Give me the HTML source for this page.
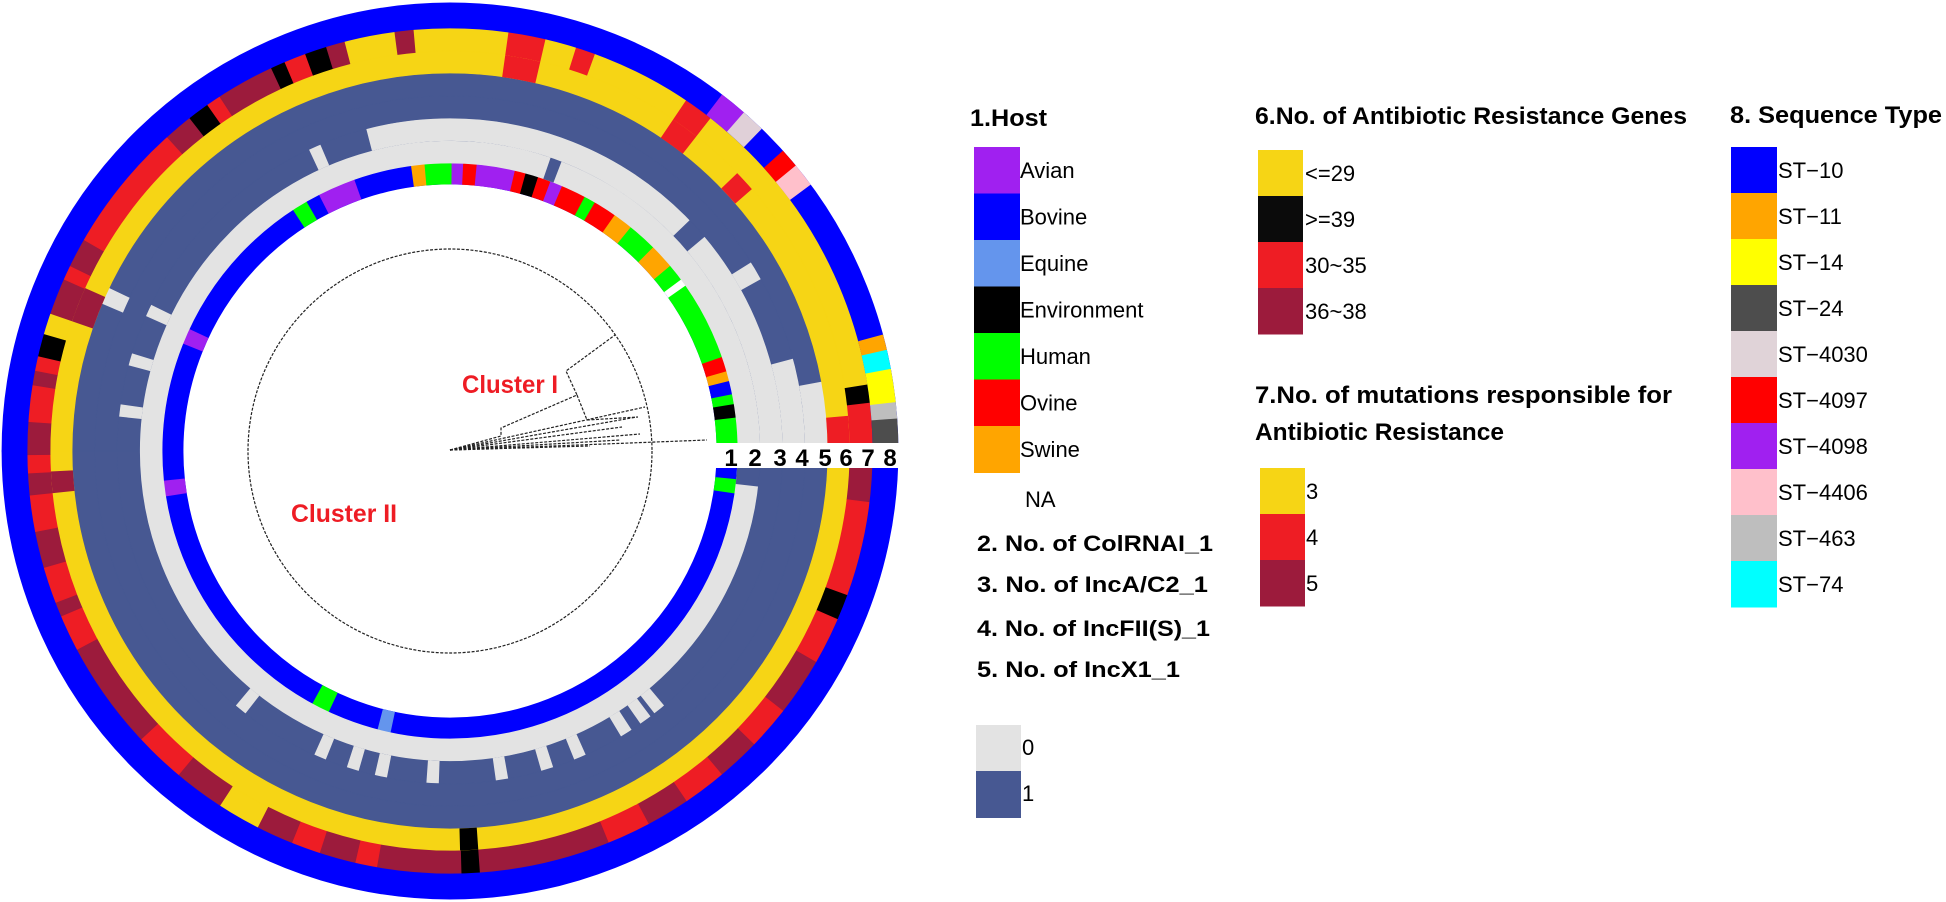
<!DOCTYPE html>
<html><head><meta charset="utf-8"><style>
html,body{margin:0;padding:0;background:#fff;}
svg{display:block;}
text{font-family:"Liberation Sans",sans-serif;}
.b{font-weight:bold;}
</style></head><body>
<svg id="s" width="1946" height="902" viewBox="0 0 1946 902" xmlns="http://www.w3.org/2000/svg">
<g id="rings"></g>
<rect x="700" y="443" width="215" height="25" fill="#fff"/>
<g id="tree" fill="none" stroke="#222" stroke-width="1.2" stroke-dasharray="3,1.5">
<circle cx="450" cy="451" r="202"/>
<polyline points="450,450 501,436 501,428 577,395 566,371 615,335"/>
<polyline points="577,395 587,420 638,417"/>
<line x1="450" y1="450" x2="645" y2="407"/>
<line x1="450" y1="450" x2="637" y2="417"/>
<line x1="450" y1="450" x2="622" y2="427"/>
<line x1="450" y1="450" x2="640" y2="434"/>
<line x1="450" y1="450" x2="620" y2="440"/>
<line x1="450" y1="450" x2="707" y2="440"/>
<line x1="450" y1="450" x2="590" y2="446"/>
</g>
<g class="b" font-size="24" fill="#000">
<text x="731" y="466" text-anchor="middle">1</text><text x="755" y="466" text-anchor="middle">2</text>
<text x="780" y="466" text-anchor="middle">3</text><text x="802" y="466" text-anchor="middle">4</text>
<text x="825" y="466" text-anchor="middle">5</text><text x="846" y="466" text-anchor="middle">6</text>
<text x="868" y="466" text-anchor="middle">7</text><text x="890" y="466" text-anchor="middle">8</text>
</g>
<text class="b" x="462" y="393" font-size="25" fill="#ee1c24" textLength="96" lengthAdjust="spacingAndGlyphs">Cluster I</text>
<text class="b" x="291" y="522" font-size="25" fill="#ee1c24" textLength="106" lengthAdjust="spacingAndGlyphs">Cluster II</text>

<text class="b" x="970" y="126" font-size="24" textLength="77" lengthAdjust="spacingAndGlyphs">1.Host</text>
<g id="leg1"></g>
<text x="1025" y="507" font-size="22">NA</text>
<g class="b" font-size="22">
<text x="977" y="551" textLength="236" lengthAdjust="spacingAndGlyphs">2. No. of ColRNAI_1</text>
<text x="977" y="592" textLength="231" lengthAdjust="spacingAndGlyphs">3. No. of IncA/C2_1</text>
<text x="977" y="636" textLength="233" lengthAdjust="spacingAndGlyphs">4. No. of IncFII(S)_1</text>
<text x="977" y="677" textLength="203" lengthAdjust="spacingAndGlyphs">5. No. of IncX1_1</text>
</g>
<rect x="976" y="725" width="45" height="46" fill="#e3e3e3"/>
<rect x="976" y="771" width="45" height="47" fill="#475892"/>
<text x="1022" y="755" font-size="22">0</text>
<text x="1022" y="801" font-size="22">1</text>

<text class="b" x="1255" y="124" font-size="24" textLength="432" lengthAdjust="spacingAndGlyphs">6.No. of Antibiotic Resistance Genes</text>
<text class="b" x="1255" y="403" font-size="24" textLength="417" lengthAdjust="spacingAndGlyphs">7.No. of  mutations responsible for</text>
<text class="b" x="1255" y="440" font-size="24" textLength="249" lengthAdjust="spacingAndGlyphs">Antibiotic Resistance</text>
<g id="leg2"></g>
<text class="b" x="1730" y="123" font-size="24" textLength="212" lengthAdjust="spacingAndGlyphs">8. Sequence Type</text>
<g id="leg3"></g>
</svg>
<script>
var NS="http://www.w3.org/2000/svg";
var cx=450,cy=451;
var g=document.getElementById('rings');
function P(r,a){a=a*Math.PI/180;return (cx+r*Math.cos(a)).toFixed(2)+","+(cy+r*Math.sin(a)).toFixed(2);}
function arc(r1,r2,a1,a2,col){
  var la=(a2-a1)>180?1:0;
  var d="M"+P(r2,a1)+" A"+r2+","+r2+" 0 "+la+" 1 "+P(r2,a2)+" L"+P(r1,a2)+" A"+r1+","+r1+" 0 "+la+" 0 "+P(r1,a1)+"Z";
  var p=document.createElementNS(NS,"path");p.setAttribute("d",d);p.setAttribute("fill",col);
  p.setAttribute("stroke",col);p.setAttribute("stroke-width","0.8");g.appendChild(p);
}
function full(r1,r2,col){arc(r1,r2,0,179.99,col);arc(r1,r2,180,359.99,col);}
var BL="#0000ff",GR="#00ff00",PU="#a020f0",RD="#ff0000",OR="#ffa500",BK="#000000",EQ="#6495ed";
var Y6="#f6d515",R7="#ee1d24",DR="#9c1b3c",GY="#e3e3e3",SL="#475892";
var R=[267,288,310.5,333,355.5,378,400,423,448];
full(R[0],R[1],BL);
[[5.7,8.4,GR],[102,104.5,EQ],[115,118.5,GR],[171,174,PU],[202,205,PU],[237,240,GR],[243,250.5,PU],
[262.3,265,OR],[265,270.4,GR],[270.4,272.7,PU],[272.7,275.4,RD],[275.4,283.1,PU],[283.1,285.3,RD],[285.3,287.9,BK],
[287.9,290.5,RD],[290.5,293,PU],[293,298,RD],[298,300.3,GR],[300.3,305,RD],[305,309,OR],[309,315,GR],[315,320,OR],
[320,323.5,GR],[323.5,325,"#fff"],[325,341,GR],[341,344,RD],[344,346,OR],[346,348.7,BL],[348.7,350.7,GR],[350.7,353.4,BK],[353.4,359.99,GR]
].forEach(function(s){arc(R[0],R[1],s[0],s[1],s[2]);});
full(R[1],R[2],GY);
[[0,6.5],[289,291]].forEach(function(s){arc(R[1],R[2],s[0],s[1],SL);});
full(R[2],R[3],SL);
[[50,52],[53,55],[57,59],[66,68],[72,74],[80,82],[92,94],[101,103],[106,108],[112,114],[128,130],[186,188],[195,197],[204,206],[245,247],[255.5,316],[320,359.99]
].forEach(function(s){arc(R[2],R[3],s[0],s[1],GY);});
full(R[3],R[4],SL);
[[328,331],[345,359.99]].forEach(function(s){arc(R[3],R[4],s[0],s[1],GY);});
full(R[4],R[5],SL);
[[203,205.5],[349.5,359.99]].forEach(function(s){arc(R[4],R[5],s[0],s[1],GY);});
full(R[5],R[6],Y6);
[[355,359.99,R7],[278,283,R7],[304,308,R7],[316,319,R7],[199,204,DR],[174,177,DR],[86,88.5,BK]
].forEach(function(s){arc(R[5],R[6],s[0],s[1],s[2]);});
full(R[6],R[7],Y6);
[[0,7,DR],[7,20,R7],[20,23.5,BK],[23.5,30,R7],[30,38,DR],[38,44,R7],[44,50,DR],[50,56,R7],[56,62,DR],[62,68,R7],
[68,86,DR],[86,88.5,BK],[88.5,100,DR],[100,103,R7],[103,108,DR],[108,112,R7],[112,117,DR],[123,130,DR],[130,137,R7],
[137,152,DR],[152,157,R7],[157,159,DR],[159,164,R7],[164,169,DR],[169,174,R7],[174,177,DR],[177,179.5,R7],[179.5,184,DR],
[184,189,R7],[189,191,DR],[191,193,R7],[193,196,BK],[199,204,DR],[204,206,R7],[206,210,DR],[210,228,R7],[228,232,DR],
[232,235,BK],[235,237,R7],[237,245,DR],[245,247,BK],[247,250,R7],[250,253,BK],[253,255.5,DR],[262.5,265,DR],[278,283,R7],
[287.4,290,R7],[304,308,R7],[351,353.5,BK],[353.5,359.99,R7]
].forEach(function(s){arc(R[6],R[7],s[0],s[1],s[2]);});
full(R[7],R[8],BL);
[[307.4,311,PU],[311,314,"#e0d0d8"],[318,320.5,RD],[320.5,323.5,"#ffc0cb"],[345,347,OR],[347,349.5,"#00ffff"],
[349.5,353.8,"#ffff00"],[353.8,355.9,"#bebebe"],[355.9,359.99,"#4d4d4d"]
].forEach(function(s){arc(R[7],R[8],s[0],s[1],s[2]);});

function legend(id,x,y0,h,w,items,tx){
  var gg=document.getElementById(id);
  items.forEach(function(it,i){
    var r=document.createElementNS(NS,"rect");
    r.setAttribute("x",x);r.setAttribute("y",y0+i*h);r.setAttribute("width",w);r.setAttribute("height",h+0.5);r.setAttribute("fill",it[0]);
    gg.appendChild(r);
    var t=document.createElementNS(NS,"text");
    t.setAttribute("x",tx);t.setAttribute("y",y0+i*h+31);t.setAttribute("font-size","22");t.textContent=it[1];
    gg.appendChild(t);
  });
}
legend("leg1",974,147,46.5,46,[[PU,"Avian"],[BL,"Bovine"],[EQ,"Equine"],[BK,"Environment"],[GR,"Human"],[RD,"Ovine"],[OR,"Swine"]],1020);
legend("leg2",1258,150,46,45,[[Y6,"<=29"],["#0b0b0b",">=39"],[R7,"30~35"],[DR,"36~38"]],1305);
legend("leg2",1260,468,46,45,[[Y6,"3"],[R7,"4"],[DR,"5"]],1306);
legend("leg3",1731,147,46,46,[[BL,"ST\u221210"],[OR,"ST\u221211"],["#ffff00","ST\u221214"],["#4d4d4d","ST\u221224"],["#e0d3d8","ST\u22124030"],[RD,"ST\u22124097"],[PU,"ST\u22124098"],["#ffc0cb","ST\u22124406"],["#bebebe","ST\u2212463"],["#00ffff","ST\u221274"]],1778);
</script>
</body></html>
